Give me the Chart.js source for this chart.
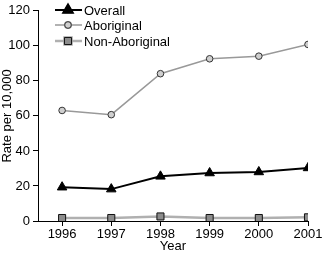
<!DOCTYPE html>
<html>
<head>
<meta charset="utf-8">
<script src="https://cdn.jsdelivr.net/npm/chart.js@4/dist/chart.umd.min.js"></script>
<style>
  html, body { margin: 0; padding: 0; background: #fff; }
  #wrap { width: 322px; height: 256px; }
</style>
</head>
<body>
<div id="wrap"><canvas id="rateChart"></canvas></div>
<script>
// ---- data ----
const years = [1996, 1997, 1998, 1999, 2000, 2001];
const overall = [19.3, 18.2, 25.5, 27.4, 28.0, 30.3];
const aboriginal = [63.1, 60.7, 84.1, 92.6, 94.1, 100.8];
const nonAboriginal = [1.7, 1.7, 2.6, 1.7, 1.7, 2.1];
const yTicks = [0, 20, 40, 60, 80, 100, 120];

const FONT = '"Liberation Sans", Arial, sans-serif';

function toPoints(values) {
  return years.map((yr, i) => ({ x: yr, y: values[i] }));
}

/**
 * Legend drawn as line + marker swatches, like the original figure
 */
const lineLegend = {
  id: 'lineLegend',
  afterDraw(chart) {
    const ctx = chart.ctx;
    const x0 = 55, x1 = 82, mx = 68, tx = 84;
    const rows = [10, 25, 41];
    ctx.save();
    chart.data.datasets.forEach((ds, i) => {
      const y = rows[i];
      ctx.strokeStyle = ds.borderColor;
      ctx.lineWidth = ds.borderWidth;
      ctx.beginPath();
      ctx.moveTo(x0, y);
      ctx.lineTo(x1, y);
      ctx.stroke();
      Chart.helpers.drawPoint(ctx, {
        pointStyle: ds.pointStyle,
        radius: ds.pointRadius,
        borderWidth: ds.pointBorderWidth,
        rotation: 0
      }, mx, y);
      ctx.fillStyle = ds.pointBackgroundColor;
      ctx.strokeStyle = ds.pointBorderColor;
      ctx.lineWidth = ds.pointBorderWidth;
      ctx.beginPath();
      Chart.helpers.drawPoint(ctx, {
        pointStyle: ds.pointStyle,
        radius: ds.pointRadius,
        borderWidth: ds.pointBorderWidth,
        rotation: 0
      }, mx, y);
      ctx.font = '13px ' + FONT;
      ctx.fillStyle = '#000';
      ctx.textAlign = 'left';
      ctx.textBaseline = 'middle';
      ctx.fillText(ds.label, tx, y + 1);
    });
    ctx.restore();
  }
};

const ctx = document.getElementById('rateChart').getContext('2d');

new Chart(ctx, {
  type: 'line',
  data: {
    datasets: [
      {
        label: 'Overall',
        data: toPoints(overall),
        borderColor: '#000',
        borderWidth: 2,
        pointStyle: 'triangle',
        pointRadius: 5.5,
        pointBackgroundColor: '#000',
        pointBorderColor: '#000',
        pointBorderWidth: 1,
        tension: 0
      },
      {
        label: 'Aboriginal',
        data: toPoints(aboriginal),
        borderColor: '#999',
        borderWidth: 1.5,
        pointStyle: 'circle',
        pointRadius: 3.3,
        pointBackgroundColor: '#cfcfcf',
        pointBorderColor: '#333',
        pointBorderWidth: 1,
        tension: 0
      },
      {
        label: 'Non-Aboriginal',
        data: toPoints(nonAboriginal),
        borderColor: '#b0b0b0',
        borderWidth: 2.5,
        pointStyle: 'rect',
        pointRadius: 5,
        pointBackgroundColor: '#8c8c8c',
        pointBorderColor: '#111',
        pointBorderWidth: 1,
        tension: 0
      }
    ]
  },
  options: {
    responsive: true,
    maintainAspectRatio: false,
    animation: false,
    layout: { padding: { top: 8, right: 14, left: 0, bottom: 0 } },
    plugins: {
      legend: { display: false },
      tooltip: { enabled: false }
    },
    scales: {
      x: {
        type: 'linear',
        min: 1995.51,
        max: 2001,
        afterBuildTicks: (scale) => {
          scale.ticks = years.map(v => ({ value: v }));
        },
        afterFit: (scale) => {
          scale.height = 35;
          scale.paddingLeft = 0;
          scale.paddingRight = 0;
        },
        grid: { drawOnChartArea: false, color: '#000', tickLength: 5 },
        border: { color: '#000', width: 1 },
        ticks: {
          color: '#000',
          padding: 1,
          maxRotation: 0,
          autoSkip: false,
          font: { family: FONT, size: 13 },
          callback: (value) => String(value)
        },
        title: {
          display: true,
          text: 'Year',
          color: '#000',
          padding: { top: 0, bottom: 2 },
          font: { family: FONT, size: 13 }
        }
      },
      y: {
        min: 0,
        max: 120,
        afterBuildTicks: (scale) => {
          scale.ticks = yTicks.map(v => ({ value: v }));
        },
        afterFit: (scale) => {
          scale.width = 38;
        },
        grid: { drawOnChartArea: false, color: '#000', tickLength: 5 },
        border: { color: '#000', width: 1 },
        ticks: {
          color: '#000',
          padding: 3,
          font: { family: FONT, size: 13 }
        },
        title: {
          display: true,
          text: 'Rate per 10,000',
          color: '#000',
          padding: 0,
          font: { family: FONT, size: 13 }
        }
      }
    }
  },
  plugins: [lineLegend]
});
</script>
</body>
</html>
